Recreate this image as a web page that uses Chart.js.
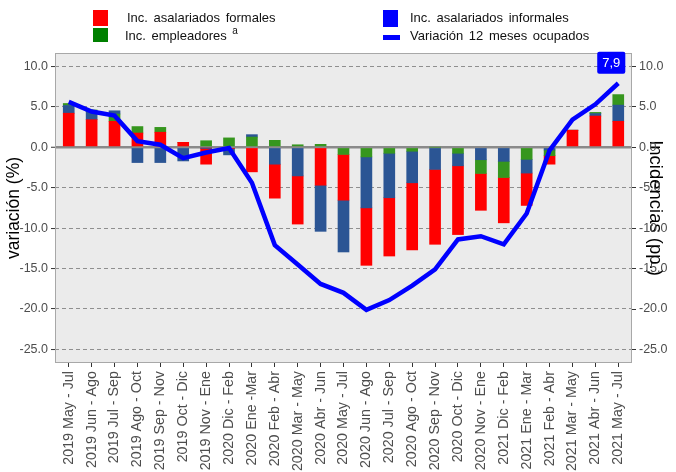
<!DOCTYPE html>
<html>
<head>
<meta charset="utf-8">
<script src="https://cdn.jsdelivr.net/npm/chart.js@4.4.1/dist/chart.umd.min.js"></script>
<style>
  body { margin: 0; background: #fff; }
  #wrap { position: relative; width: 676px; height: 472px; }
  #legend { position: absolute; left: 0; top: 0; width: 676px; height: 50px;
            font: 13px "Liberation Sans", Arial, sans-serif; color: #111; word-spacing: 2px; }
  #legend .sw { position: absolute; }
  #legend .tx { position: absolute; line-height: 16px; white-space: nowrap; }
  #legend sup { font-size: 10px; vertical-align: 6px; line-height: 0; }
</style>
</head>
<body>
<div id="wrap">
  <canvas id="chart" width="676" height="472"></canvas>
  <div id="legend">
    <div class="sw" style="left:93px;top:10px;width:15px;height:16px;background:#FF0000"></div>
    <div class="tx" style="left:127px;top:10px">Inc. asalariados formales</div>
    <div class="sw" style="left:93px;top:28px;width:15px;height:14px;background:#008000"></div>
    <div class="tx" style="left:125px;top:28px">Inc. empleadores <sup>a</sup></div>
    <div class="sw" style="left:383px;top:10px;width:15px;height:17px;background:#0000FF"></div>
    <div class="tx" style="left:410px;top:10px">Inc. asalariados informales</div>
    <div class="sw" style="left:383px;top:35px;width:17px;height:5px;background:#0000FF"></div>
    <div class="tx" style="left:410px;top:28px">Variación 12 meses ocupados</div>
  </div>
</div>
<script>
// ── Data ──
const periods = [
  '2019 May - Jul', '2019 Jun - Ago', '2019 Jul - Sep', '2019 Ago - Oct', '2019 Sep - Nov',
  '2019 Oct - Dic', '2019 Nov - Ene', '2020 Dic - Feb', '2020 Ene -Mar', '2020 Feb - Abr',
  '2020 Mar - May', '2020 Abr - Jun', '2020 May - Jul', '2020 Jun - Ago', '2020 Jul - Sep',
  '2020 Ago - Oct', '2020 Sep - Nov', '2020 Oct - Dic', '2020 Nov - Ene', '2021 Dic - Feb',
  '2021 Ene - Mar', '2021 Feb - Abr', '2021 Mar - May', '2021 Abr - Jun', '2021 May - Jul'
];
const formales = [4.2, 3.4, 3.2, 1.75, 1.85, 0.6, -2.0, -0.15, -3.05, -4.2, -5.95, -4.7, -5.65,
  -7.1, -7.2, -8.3, -9.25, -8.5, -4.55, -5.6, -4.0, -1.05, 2.1, 3.85, 3.2];
const informales = [0.95, 1.0, 0.4, -1.9, -1.9, -1.7, -0.1, -0.8, 0.3, -2.1, -3.55, -5.7, -6.4,
  -6.3, -5.5, -3.9, -2.75, -1.55, -1.55, -1.75, -1.7, -0.35, 0.0, 0.3, 2.0];
const empleadores = [0.25, 0.2, 0.9, 0.8, 0.6, 0.0, 0.8, 1.15, 1.25, 0.85, 0.3, 0.35, -0.9,
  -1.2, -0.75, -0.5, 0.0, -0.75, -1.7, -2.0, -1.5, -0.7, 0.0, 0.15, 1.3];
const ocupados = [5.6, 4.4, 3.9, 0.75, 0.3, -1.35, -0.65, -0.1, -4.4, -12.1, -14.5, -16.9, -18.0,
  -20.1, -18.9, -17.1, -15.1, -11.4, -11.0, -12.0, -8.2, -0.4, 3.4, 5.3, 7.9];
const yTicks = [-25, -20, -15, -10, -5, 0, 5, 10];

const series = [
  { values: formales, color: '#FF0000' },
  { values: informales, color: '#2B5594' },
  { values: empleadores, color: '#36961E' }
];

// each period stacks its parts from the largest value down, so build layers by rank
const layers = series.map(() => ({ data: [], backgroundColor: [] }));
periods.forEach((p, i) => {
  const ranked = series.slice().sort((a, b) => b.values[i] - a.values[i]);
  ranked.forEach((s, k) => {
    layers[k].data.push({ x: i, y: s.values[i] });
    layers[k].backgroundColor.push(s.color);
  });
});

const barDatasets = layers.map(l => ({
  type: 'bar',
  data: l.data,
  backgroundColor: l.backgroundColor,
  borderWidth: 0,
  barThickness: 11,
  stack: 'bars',
  order: 1
}));

const lineDataset = {
  type: 'line',
  data: ocupados.map((v, i) => ({ x: i, y: v })),
  borderColor: '#0000FF',
  borderWidth: 4.5,
  pointRadius: 0,
  tension: 0,
  fill: false,
  stack: 'line',
  order: 0
};

// ── Panel background, border and end label ──
const panelPlugin = {
  id: 'panel',
  beforeDraw(chart) {
    const { ctx, chartArea: a } = chart;
    ctx.save();
    ctx.fillStyle = '#EBEBEB';
    ctx.fillRect(a.left, a.top, a.width, a.height);
    ctx.restore();
  },
  afterDraw(chart) {
    const { ctx, chartArea: a } = chart;
    ctx.save();
    ctx.strokeStyle = '#A8A8A8';
    ctx.lineWidth = 1;
    ctx.strokeRect(a.left + 0.5, a.top + 0.5, a.width - 1, a.height - 1);

    const meta = chart.getDatasetMeta(chart.data.datasets.length - 1);
    const pt = meta.data[meta.data.length - 1];
    const text = ocupados[ocupados.length - 1].toFixed(1).replace('.', ',');
    ctx.font = '13px "Liberation Sans", Arial, sans-serif';
    const w = ctx.measureText(text).width + 10;
    const h = 22;
    const cx = pt.x - 7, cy = pt.y - 20.5;
    ctx.fillStyle = '#0000FF';
    ctx.beginPath();
    ctx.roundRect(cx - w / 2, cy - h / 2, w, h, 2);
    ctx.fill();
    ctx.fillStyle = '#FFFFFF';
    ctx.textAlign = 'center';
    ctx.textBaseline = 'middle';
    ctx.fillText(text, cx, cy + 1);
    ctx.restore();
  }
};

const family = '"Liberation Sans", Arial, sans-serif';
const tickFont = { family, size: 12.5 };
const gridColor = ctx => ctx.tick && ctx.tick.value === 0 ? '#8A8A8A' : '#8F8F8F';
const gridWidth = ctx => ctx.tick && ctx.tick.value === 0 ? 2.5 : 1.1;
const gridDash = ctx => ctx.tick && ctx.tick.value === 0 ? [] : [4, 3];

new Chart(document.getElementById('chart'), {
  data: { datasets: [...barDatasets, lineDataset] },
  options: {
    responsive: false,
    animation: false,
    layout: { padding: { top: 53, right: 6, left: 0, bottom: 0 } },
    plugins: { legend: { display: false }, tooltip: { enabled: false } },
    scales: {
      x: {
        type: 'linear',
        min: -0.6,
        max: 24.6,
        offset: false,
        stacked: true,
        afterBuildTicks: s => { s.ticks = periods.map((p, i) => ({ value: i })); },
        afterFit: s => { s.height = 109; },
        grid: { drawOnChartArea: false, offset: false, tickLength: 4, tickColor: '#333', tickWidth: 1 },
        border: { display: false },
        ticks: {
          autoSkip: false, minRotation: 90, maxRotation: 90, padding: 4,
          color: '#4D4D4D', font: { family, size: 14.3 },
          callback: v => periods[v]
        }
      },
      y: {
        type: 'linear',
        position: 'left',
        min: -26.67,
        max: 11.64,
        stacked: true,
        afterBuildTicks: s => { s.ticks = yTicks.map(v => ({ value: v })); },
        afterFit: s => { s.width = 55; },
        grid: { color: gridColor, lineWidth: gridWidth, tickLength: 4, tickColor: '#333', tickWidth: 1, tickBorderDash: [] },
        border: { display: false, dash: gridDash },
        ticks: { color: '#4D4D4D', font: tickFont, padding: 3, callback: v => v.toFixed(1) },
        title: { display: true, text: 'variación (%)', color: '#000', font: { family, size: 17.5 }, padding: { top: 4, bottom: 4 } }
      },
      y2: {
        type: 'linear',
        position: 'right',
        min: -26.67,
        max: 11.64,
        afterBuildTicks: s => { s.ticks = yTicks.map(v => ({ value: v })); },
        afterFit: s => { s.width = 38; },
        grid: { drawOnChartArea: false, tickLength: 4, tickColor: '#333', tickWidth: 1 },
        border: { display: false },
        ticks: { color: '#4D4D4D', font: tickFont, padding: 3, callback: v => v.toFixed(1) },
        title: { display: true, text: 'Incidencias (pp.)', color: '#000', font: { family, size: 18.5 }, padding: { top: 4, bottom: 4 } }
      }
    }
  },
  plugins: [panelPlugin]
});
</script>
</body>
</html>
